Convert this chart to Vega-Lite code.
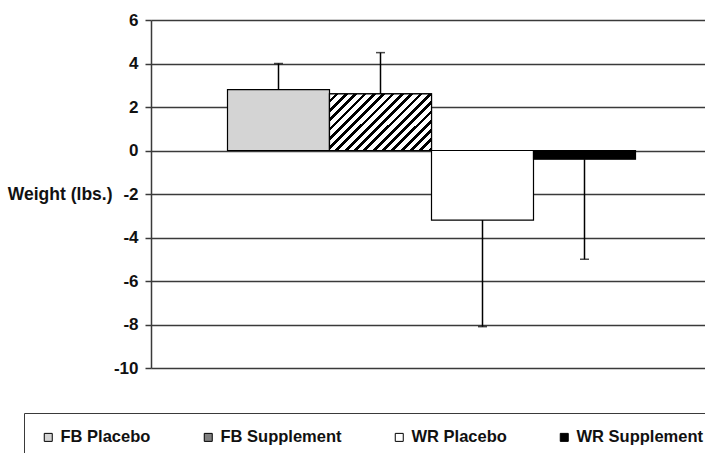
{
  "$schema": "https://vega.github.io/schema/vega-lite/v6.json",
  "autosize": {"type": "none"},
  "padding": {"left": 151, "top": 20, "right": 0, "bottom": 85},
  "width": 561,
  "height": 348,
  "background": "white",
  "config": {
    "view": {"stroke": null},
    "font": "Liberation Sans"
  },
  "data": {
    "values": [
      {"group": "FB Placebo", "value": 2.8, "err": 4.0},
      {"group": "FB Supplement", "value": 2.6, "err": 4.5},
      {"group": "WR Placebo", "value": -3.2, "err": -8.1},
      {"group": "WR Supplement", "value": -0.4, "err": -5.0}
    ]
  },
  "encoding": {
    "x": {
      "field": "group",
      "type": "nominal",
      "sort": ["FB Placebo", "FB Supplement", "WR Placebo", "WR Supplement"],
      "scale": {"paddingInner": 0, "paddingOuter": 0.75},
      "axis": null
    }
  },
  "layer": [
    {
      "mark": {"type": "bar", "stroke": "black", "strokeWidth": 1.2},
      "encoding": {
        "y": {
          "field": "value",
          "type": "quantitative",
          "scale": {"domain": [-10, 6], "nice": false},
          "axis": {
            "values": [-10, -8, -6, -4, -2, 0, 2, 4, 6],
            "labelExpr": "datum.value + ''",
            "title": "Weight (lbs.)",
            "titleAngle": 0,
            "titleAlign": "right",
            "titleBaseline": "middle",
            "titleX": -39,
            "titleY": 174,
            "titleFont": "Liberation Sans",
            "titleFontSize": 17.5,
            "titleFontWeight": "bold",
            "titleColor": "#111",
            "labelFont": "Liberation Sans",
            "labelFontSize": 17,
            "labelFontWeight": "bold",
            "labelColor": "#111",
            "labelPadding": 7,
            "tickSize": 6,
            "tickColor": "#3a3a3a",
            "tickWidth": 1.5,
            "domainColor": "#3a3a3a",
            "domainWidth": 1.5,
            "grid": true,
            "gridColor": "#3a3a3a",
            "gridWidth": 1.5,
            "gridOpacity": 1
          }
        },
        "fill": {
          "field": "group",
          "type": "nominal",
          "sort": ["FB Placebo", "FB Supplement", "WR Placebo", "WR Supplement"],
          "scale": {
            "domain": ["FB Placebo", "FB Supplement", "WR Placebo", "WR Supplement"],
            "range": ["#d4d4d4", "#808080", "white", "black"]
          },
          "legend": {
            "orient": "none",
            "legendX": -127,
            "legendY": 393,
            "direction": "horizontal",
            "columns": 4,
            "columnPadding": 49,
            "title": null,
            "padding": 16,
            "strokeColor": "#3a3a3a",
            "symbolType": "square",
            "symbolSize": 64,
            "symbolStrokeColor": "black",
            "symbolStrokeWidth": 1,
            "symbolOpacity": 1,
            "labelFont": "Liberation Sans",
            "labelFontSize": 16.5,
            "labelFontWeight": "bold",
            "labelColor": "#111",
            "labelOffset": 4,
            "labelLimit": 300
          }
        }
      }
    },
    {
      "transform": [{"filter": "datum.group === 'FB Supplement'"}],
      "mark": {
        "type": "bar",
        "stroke": "black",
        "strokeWidth": 1.2,
        "fill": {
          "gradient": "linear",
          "x1": 0, "y1": 0, "x2": 1.189, "y2": 0.66,
          "stops": [
            {"offset": 0, "color": "white"}, {"offset": 0.0353, "color": "white"}, {"offset": 0.0353, "color": "black"}, {"offset": 0.0588, "color": "black"},
            {"offset": 0.0588, "color": "white"}, {"offset": 0.0941, "color": "white"}, {"offset": 0.0941, "color": "black"}, {"offset": 0.1176, "color": "black"},
            {"offset": 0.1176, "color": "white"}, {"offset": 0.1529, "color": "white"}, {"offset": 0.1529, "color": "black"}, {"offset": 0.1765, "color": "black"},
            {"offset": 0.1765, "color": "white"}, {"offset": 0.2118, "color": "white"}, {"offset": 0.2118, "color": "black"}, {"offset": 0.2353, "color": "black"},
            {"offset": 0.2353, "color": "white"}, {"offset": 0.2706, "color": "white"}, {"offset": 0.2706, "color": "black"}, {"offset": 0.2941, "color": "black"},
            {"offset": 0.2941, "color": "white"}, {"offset": 0.3294, "color": "white"}, {"offset": 0.3294, "color": "black"}, {"offset": 0.3529, "color": "black"},
            {"offset": 0.3529, "color": "white"}, {"offset": 0.3882, "color": "white"}, {"offset": 0.3882, "color": "black"}, {"offset": 0.4118, "color": "black"},
            {"offset": 0.4118, "color": "white"}, {"offset": 0.4471, "color": "white"}, {"offset": 0.4471, "color": "black"}, {"offset": 0.4706, "color": "black"},
            {"offset": 0.4706, "color": "white"}, {"offset": 0.5059, "color": "white"}, {"offset": 0.5059, "color": "black"}, {"offset": 0.5294, "color": "black"},
            {"offset": 0.5294, "color": "white"}, {"offset": 0.5647, "color": "white"}, {"offset": 0.5647, "color": "black"}, {"offset": 0.5882, "color": "black"},
            {"offset": 0.5882, "color": "white"}, {"offset": 0.6235, "color": "white"}, {"offset": 0.6235, "color": "black"}, {"offset": 0.6471, "color": "black"},
            {"offset": 0.6471, "color": "white"}, {"offset": 0.6824, "color": "white"}, {"offset": 0.6824, "color": "black"}, {"offset": 0.7059, "color": "black"},
            {"offset": 0.7059, "color": "white"}, {"offset": 0.7412, "color": "white"}, {"offset": 0.7412, "color": "black"}, {"offset": 0.7647, "color": "black"},
            {"offset": 0.7647, "color": "white"}, {"offset": 0.8, "color": "white"}, {"offset": 0.8, "color": "black"}, {"offset": 0.8235, "color": "black"},
            {"offset": 0.8235, "color": "white"}, {"offset": 0.8588, "color": "white"}, {"offset": 0.8588, "color": "black"}, {"offset": 0.8824, "color": "black"},
            {"offset": 0.8824, "color": "white"}, {"offset": 0.9176, "color": "white"}, {"offset": 0.9176, "color": "black"}, {"offset": 0.9412, "color": "black"},
            {"offset": 0.9412, "color": "white"}, {"offset": 0.9765, "color": "white"}, {"offset": 0.9765, "color": "black"}, {"offset": 1, "color": "black"}
          ]
        }
      },
      "encoding": {
        "y": {"field": "value", "type": "quantitative"}
      }
    },
    {
      "mark": {"type": "rule", "color": "black", "strokeWidth": 1.5},
      "encoding": {
        "y": {"field": "value", "type": "quantitative"},
        "y2": {"field": "err"}
      }
    },
    {
      "mark": {"type": "tick", "orient": "horizontal", "color": "black", "size": 9, "thickness": 1.5},
      "encoding": {
        "y": {"field": "err", "type": "quantitative"}
      }
    }
  ]
}
